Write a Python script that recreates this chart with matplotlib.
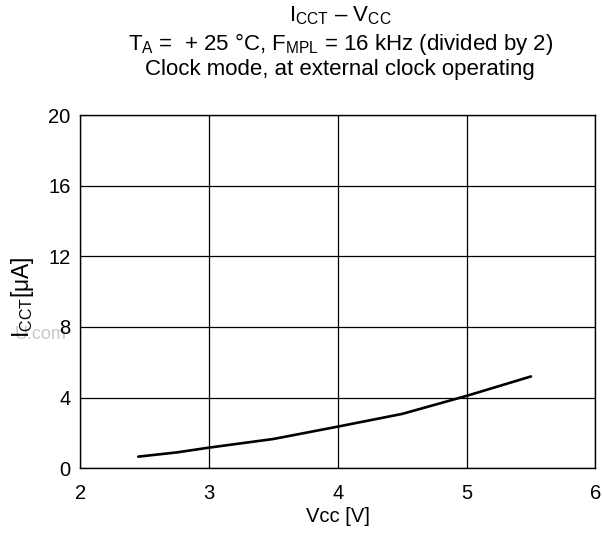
import matplotlib
matplotlib.use("Agg")
import matplotlib.pyplot as plt
import numpy as np

# font setup, helvetica-like
plt.rcParams['font.family'] = ['Liberation Sans', 'DejaVu Sans']
plt.rcParams['mathtext.fontset'] = 'custom'
plt.rcParams['mathtext.rm'] = 'Liberation Sans'
plt.rcParams['mathtext.it'] = 'Liberation Sans'

# values
vcc = [2.45, 2.75, 3.0, 3.5, 4.0, 4.5, 5.0, 5.5]
icct = [0.66, 0.9, 1.17, 1.66, 2.36, 3.08, 4.1, 5.2]

xTicks = [2, 3, 4, 5, 6]
yTicks = [0, 4, 8, 12, 16, 20]

fig = plt.figure(figsize=(6.02, 5.33), dpi=100)
ax = fig.add_axes([0.1334, 0.1214, 0.8556, 0.6628])

ax.plot(vcc, icct, color='black', linewidth=1.9, solid_capstyle='round')

ax.set_xlim(2, 6)
ax.set_ylim(0, 20)
ax.set_xticks(xTicks)
ax.set_yticks(yTicks)
ax.tick_params(axis='y', length=0, labelsize=14.5, pad=7)
ax.tick_params(axis='x', length=0, labelsize=14.5, pad=11.5)
ax.grid(True, color='black', linewidth=0.9)
for s in ax.spines.values():
  s.set_linewidth(1.0)

ax.set_xlabel('Vcc [V]', fontsize=14.5, labelpad=3)
ax.set_ylabel(r'I$_{\mathregular{CCT}}$[$\mathregular{\mu}$A]', fontsize=16.5)
ax.yaxis.set_label_coords(-0.086, 0.485)

# three line title
fig.text(0.565, 0.971, r'I$_{\mathregular{CCT}}$ – V$_{\mathregular{CC}}$', ha='center', va='center', fontsize=16)
fig.text(0.565, 0.918, r'T$_{\mathregular{A}}$ =  + 25 °C, F$_{\mathregular{MPL}}$ = 16 kHz (divided by 2)', ha='center', va='center', fontsize=16)
fig.text(0.565, 0.870, 'Clock mode, at external clock operating', ha='center', va='center', fontsize=16)

# faint watermark left of the axis, behind the label
fig.text(0.025, 0.372, 'U.com', color='#c8c8c8', fontsize=13, ha='left', va='center', zorder=-1)

fig.savefig('out.png', dpi=100)
